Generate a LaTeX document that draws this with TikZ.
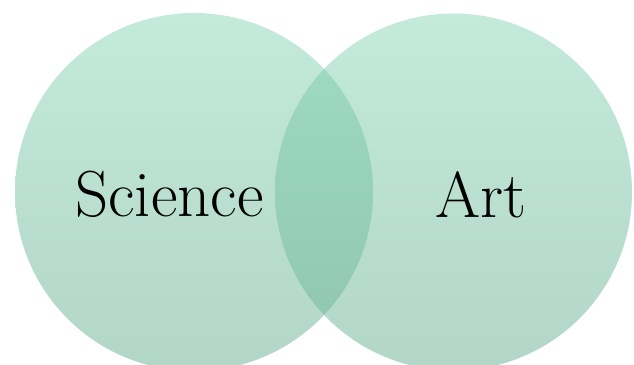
\documentclass[tikz,border=0pt]{standalone}
\begin{document}
\begin{tikzpicture}[x=1pt,y=-1pt]
  \definecolor{discTop}{HTML}{C3EADB}
  \definecolor{discBot}{HTML}{B2D6C7}
  \definecolor{lensTop}{HTML}{A0DCC5}
  \definecolor{lensBot}{HTML}{8FC4AE}
  \tikzset{
    disc/.style={top color=discTop, bottom color=discBot},
    lens/.style={top color=lensTop, bottom color=lensBot},
    label/.style={anchor=base, inner sep=0pt, font=\fontsize{65}{65}\selectfont}
  }
  \useasboundingbox (0,0) rectangle (634,364);
  \clip (0,0) rectangle (634,364);
  \coordinate (sci) at (194,192);
  \coordinate (art) at (453.5,192);
  % the two sets
  \shade[disc] (sci) circle (179);
  \shade[disc] (art) circle (178.5);
  % their intersection
  \begin{scope}
    \clip (sci) circle (179);
    \shade[lens] (art) circle (178.5);
  \end{scope}
  \node[label] (science) at (169.5,216) {Science};
  \node[label] (artlabel) at (481,217) {Art};
\end{tikzpicture}
\end{document}
